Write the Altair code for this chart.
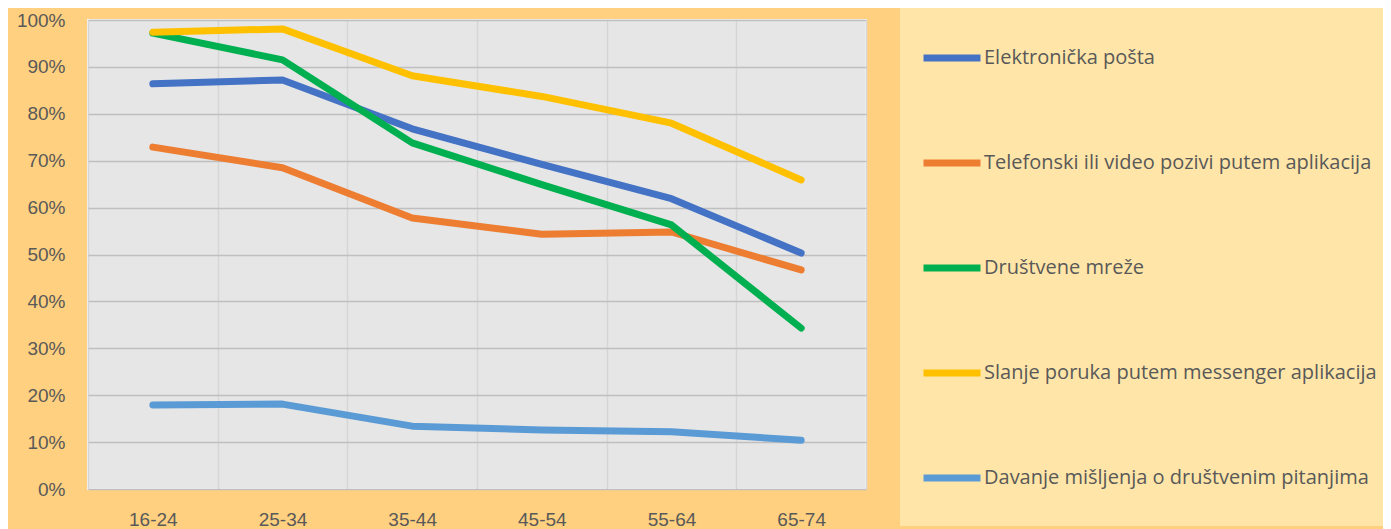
import altair as alt
import pandas as pd

ages = ["16-24", "25-34", "35-44", "45-54", "55-64", "65-74"]
series = [
    "Elektronička pošta",
    "Telefonski ili video pozivi putem aplikacija",
    "Društvene mreže",
    "Slanje poruka putem messenger aplikacija",
    "Davanje mišljenja o društvenim pitanjima",
]
colors = ["#4472C4", "#ED7D31", "#00B050", "#FFC000", "#5B9BD5"]

email = [86.4, 87.2, 76.8, 69.2, 61.9, 50.3]
calls = [72.9, 68.5, 57.8, 54.3, 54.8, 46.7]
social = [97.2, 91.5, 73.8, 64.9, 56.3, 34.3]
messenger = [97.4, 98.1, 88.1, 83.7, 78.0, 65.9]
opinion = [17.9, 18.1, 13.4, 12.6, 12.2, 10.4]

values = [email, calls, social, messenger, opinion]
rows = []
for si, (name, vals) in enumerate(zip(series, values)):
    for a, v in zip(ages, vals):
        rows.append({"serija": name, "dob": a, "udio": v / 100, "red": si})
df = pd.DataFrame(rows)

AXFONT = "Liberation Sans"
LGFONT = "Open Sans"
GREY = "#595959"

chart = (
    alt.Chart(df)
    .mark_line(strokeWidth=7, strokeCap="round", strokeJoin="round")
    .encode(
        x=alt.X(
            "dob:N",
            sort=ages,
            scale=alt.Scale(paddingInner=0, paddingOuter=0),
            axis=alt.Axis(
                title=None,
                labelAngle=0,
                labelFontSize=19,
                labelColor=GREY,
                labelFont=AXFONT,
                labelPadding=21,
                domain=False,
                ticks=False,
                grid=True,
                gridColor="#D6D6D6",
                gridWidth=1.5,
                tickBand="extent",
            ),
        ),
        y=alt.Y(
            "udio:Q",
            scale=alt.Scale(domain=[0, 1], nice=False),
            axis=alt.Axis(
                title=None,
                format=".0%",
                values=[i / 10 for i in range(11)],
                labelFontSize=19,
                labelColor=GREY,
                labelFont=AXFONT,
                labelPadding=23,
                domain=False,
                ticks=False,
                grid=True,
                gridColor="#BFBFBF",
                gridWidth=1.5,
            ),
        ),
        color=alt.Color(
            "serija:N",
            sort=series,
            scale=alt.Scale(domain=series, range=colors),
            legend=alt.Legend(
                title=" ",
                titleOrient="bottom",
                titleFontSize=14,
                titlePadding=0,
                orient="none",
                legendX=812,
                legendY=-14,
                symbolType="stroke",
                symbolSize=3249,
                symbolStrokeWidth=7,
                labelFontSize=20,
                labelColor=GREY,
                labelFont=LGFONT,
                labelOffset=0,
                labelLimit=600,
                rowPadding=59,
                padding=20,
                fillColor="#FFE6A8",
                offset=0,
            ),
        ),
        order=alt.Order("red:Q"),
    )
    .properties(
        width=778,
        height=469,
        background="#FFD07F",
        padding={"left": 80, "top": 12, "right": 517, "bottom": 40},
        autosize=alt.AutoSizeParams(type="none"),
    )
    .configure_view(fill="#E6E6E6", stroke="#F4F4F4", strokeWidth=2)
)

chart.save("out.html", embed_options={"renderer": "svg", "actions": False})
